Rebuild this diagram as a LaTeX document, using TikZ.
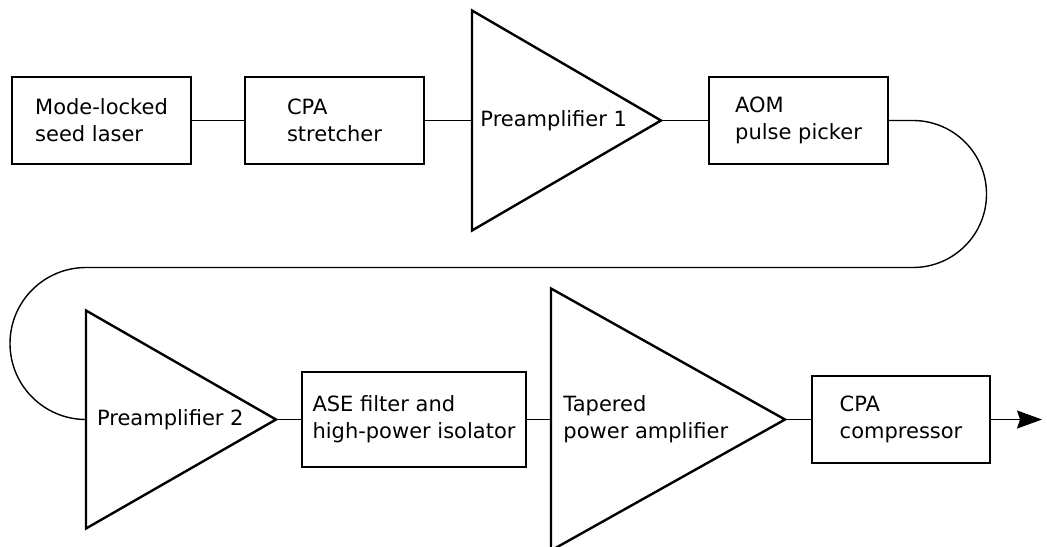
\documentclass[tikz,border=0pt]{standalone}
\usepackage{fontspec}
\setmainfont{DejaVu Sans}
\usetikzlibrary{positioning,shapes.geometric,arrows.meta}

\begin{document}
\begin{tikzpicture}[
    every node/.style = {font=\fontsize{10.5}{13.5}\selectfont},
    block/.style = {draw, line width=1.2pt, align=left, minimum width=89.5pt,
        minimum height=43.5pt, outer sep=0pt},
    amp/.style = {draw, line width=1.2pt, isosceles triangle,
        isosceles triangle stretches, inner sep=0pt, outer sep=0pt},
    fibre/.style = {line width=0.7pt}]
\useasboundingbox (0,0) rectangle (523.5pt,-273pt);

% first row
\node [block] (seed) at (50.75pt,-60.25pt) {Mode-locked\\seed laser};
\node [block, right=27pt of seed] (stretch) {CPA\\stretcher};
\node [amp, minimum height=94.5pt, minimum width=110pt, right=24pt of stretch] (pre1) {};
\node [right=0.7pt] (pre1txt) at (pre1.west) {Preamplifier 1};
\node [block, right=24pt of pre1] (pick) {AOM\\pulse picker};

% second row
\node [amp, minimum height=95pt, minimum width=109pt, anchor=west] (pre2) at (43pt,-209.75pt) {};
\node [right=2pt] (pre2txt) at (pre2.west) {Preamplifier 2};
\node [block, minimum width=112pt, minimum height=47.5pt, right=13pt of pre2] (filter)
    {ASE filter and\\high-power isolator};
\node [amp, minimum height=117pt, minimum width=131pt, right=12.5pt of filter] (power) {};
\node [right=2.7pt, align=left] (powertxt) at (power.west) {Tapered\\power amplifier};
\node [block, minimum width=89pt, right=13.5pt of power] (comp) {CPA\\compressor};

\draw [fibre] (seed) -- (stretch);
\draw [fibre] (stretch) -- (pre1.west);
\draw [fibre] (pre1.east) -- (pick);
\draw [fibre] (pick.east) -- ++(12.5pt,0) arc [start angle=90, end angle=-90, radius=36.75pt]
    -- (43pt,-133.75pt) arc [start angle=90, end angle=270, radius=38pt] -- (pre2.west);
\draw [fibre] (pre2.east) -- (filter);
\draw [fibre] (filter) -- (power.west);
\draw [fibre] (power.east) -- (comp);
\draw [fibre, -{Stealth[length=12.5pt, width=9pt, inset=1.5pt]}] (comp.east) -- ++(26pt,0);
\end{tikzpicture}
\end{document}
